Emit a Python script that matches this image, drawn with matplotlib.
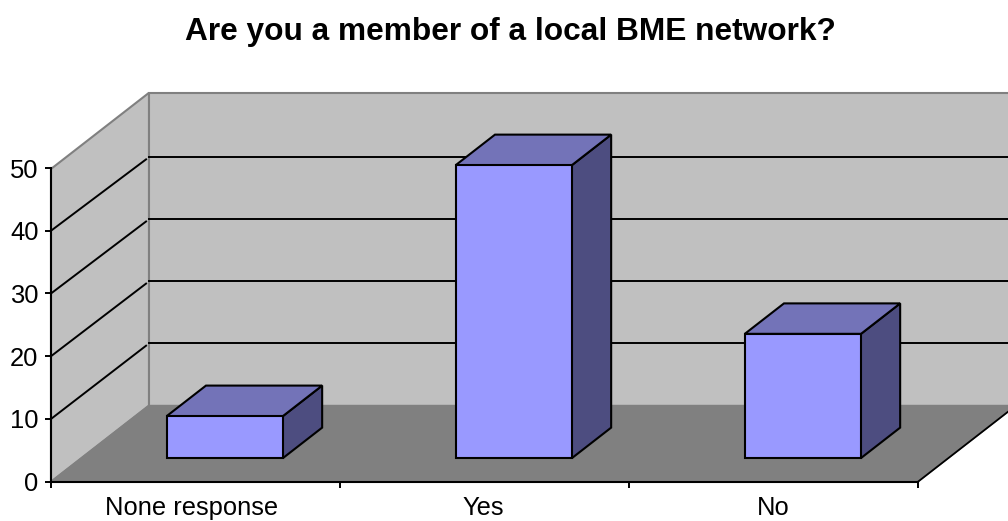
import matplotlib
matplotlib.use('Agg')
import matplotlib.pyplot as plt
from matplotlib.patches import Polygon

plt.rcParams['font.family'] = ['Liberation Sans', 'DejaVu Sans']

categories = ['None response', 'Yes', 'No']
values = [6.7, 46.7, 19.8]
y_ticks = [0, 10, 20, 30, 40, 50]

# fake 3d: depth shift of the back wall, in data units
DX = 98 / 289
DY = 76 / 6.26
BAR_W = 0.402
D0, D1 = 0.31, 0.71
YMAX = 50
GRID_BACK = 0.99  # back wall gridlines sit a little closer together


def proj(x, v, d):
    return (x + d * DX, v + d * DY)


def poly(ax, pts, fc, ec='none', lw=0, z=1):
    ax.add_patch(Polygon(pts, closed=True, facecolor=fc, edgecolor=ec, linewidth=lw,
                         joinstyle='miter', clip_on=False, zorder=z))


fig = plt.figure(figsize=(10.08, 5.21), dpi=100)
ax = fig.add_axes([51 / 1008, (521 - 481.7) / 521, 867 / 1008, 313.7 / 521])
n = len(categories)
ax.set_xlim(0, n)
ax.set_ylim(0, YMAX)
ax.patch.set_visible(False)

# walls and floor
top = YMAX - 0.15
poly(ax, [proj(0, 0, 0), proj(0, top, 0), proj(0, top, 1), proj(0, 0, 1)], '#c0c0c0', '#808080', 1.5, 1)
poly(ax, [proj(0, 0, 1), proj(0, top, 1), proj(n, top, 1), proj(n, 0, 1)], '#c0c0c0', '#808080', 1.5, 1)
poly(ax, [proj(0, 0, 0), proj(n, 0, 0), proj(n, 0, 1), proj(0, 0, 1)], '#808080', '#808080', 1, 2)

# gridlines
for t in y_ticks[1:-1]:
    back = t * GRID_BACK
    p = [proj(0, t, 0), proj(0, back, 0.97)]
    ax.plot([a[0] for a in p], [a[1] for a in p], color='black', lw=1.4, clip_on=False, zorder=3)
    p = [proj(0, back, 1), proj(n, back, 1)]
    ax.plot([a[0] for a in p], [a[1] for a in p], color='black', lw=1.4, clip_on=False, zorder=3)

# right edge of the floor
p = [proj(n, 0, 0), proj(n, 0, 1)]
ax.plot([a[0] for a in p], [a[1] for a in p], color='black', lw=1.3, clip_on=False, zorder=3)

# bars
for i, v in enumerate(values):
    x0 = i + 0.4965 - BAR_W / 2
    x1 = i + 0.4965 + BAR_W / 2
    poly(ax, [proj(x1, 0, D0), proj(x1, 0, D1), proj(x1, v, D1), proj(x1, v, D0)], '#4d4d80', 'black', 1.5, 5)
    poly(ax, [proj(x0, v, D0), proj(x0, v, D1), proj(x1, v, D1), proj(x1, v, D0)], '#7373b8', 'black', 1.5, 5)
    poly(ax, [proj(x0, 0, D0), proj(x1, 0, D0), proj(x1, v, D0), proj(x0, v, D0)], '#9999ff', 'black', 1.5, 6)

# axes
for s in ['top', 'right']:
    ax.spines[s].set_visible(False)
for s in ['left', 'bottom']:
    ax.spines[s].set_linewidth(1.5)
    ax.spines[s].set_zorder(7)
ax.set_yticks(y_ticks)
ax.set_xticks(range(n + 1))
ax.set_xticklabels([])
ax.set_xticks([0.485, 1.497, 2.5], minor=True)
ax.set_xticklabels(categories, minor=True)
ax.tick_params(axis='x', which='minor', length=0, pad=10, labelsize=18.4)
ax.tick_params(axis='x', which='major', length=4, width=1.4)
ax.tick_params(axis='y', length=4, width=1.4, labelsize=18.4, pad=5)

fig.text(510 / 1008, 1 - 32 / 521, 'Are you a member of a local BME network?', ha='center', va='center',
         fontsize=22.8, fontweight='bold')

fig.savefig('out.png', dpi=100)
